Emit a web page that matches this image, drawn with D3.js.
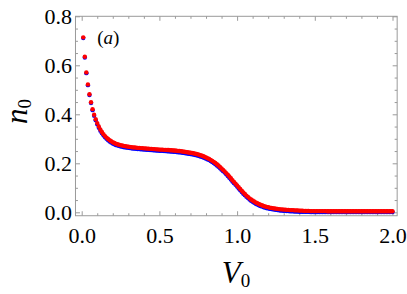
<!DOCTYPE html>
<html>
<head>
<meta charset="utf-8">
<script src="https://cdn.jsdelivr.net/npm/d3@7"></script>
<style>
  html, body { margin: 0; padding: 0; background: #fff; }
  svg { display: block; }
  svg text { font-family: 'Liberation Serif', 'DejaVu Serif', serif; }
</style>
</head>
<body>
<div id="chart"></div>
<script>
// V0 grid of the two data sets
const V0 = [
  0.01, 0.02, 0.03, 0.04, 0.05, 0.06, 0.07, 0.08, 0.09, 0.10,
  0.11, 0.12, 0.13, 0.14, 0.15, 0.16, 0.17, 0.18, 0.19, 0.20,
  0.21, 0.22, 0.23, 0.24, 0.25, 0.26, 0.27, 0.28, 0.29, 0.30,
  0.31, 0.32, 0.33, 0.34, 0.35, 0.36, 0.37, 0.38, 0.39, 0.40,
  0.41, 0.42, 0.43, 0.44, 0.45, 0.46, 0.47, 0.48, 0.49, 0.50,
  0.51, 0.52, 0.53, 0.54, 0.55, 0.56, 0.57, 0.58, 0.59, 0.60,
  0.61, 0.62, 0.63, 0.64, 0.65, 0.66, 0.67, 0.68, 0.69, 0.70,
  0.71, 0.72, 0.73, 0.74, 0.75, 0.76, 0.77, 0.78, 0.79, 0.80,
  0.81, 0.82, 0.83, 0.84, 0.85, 0.86, 0.87, 0.88, 0.89, 0.90,
  0.91, 0.92, 0.93, 0.94, 0.95, 0.96, 0.97, 0.98, 0.99, 1.00,
  1.01, 1.02, 1.03, 1.04, 1.05, 1.06, 1.07, 1.08, 1.09, 1.10,
  1.11, 1.12, 1.13, 1.14, 1.15, 1.16, 1.17, 1.18, 1.19, 1.20,
  1.21, 1.22, 1.23, 1.24, 1.25, 1.26, 1.27, 1.28, 1.29, 1.30,
  1.31, 1.32, 1.33, 1.34, 1.35, 1.36, 1.37, 1.38, 1.39, 1.40,
  1.41, 1.42, 1.43, 1.44, 1.45, 1.46, 1.47, 1.48, 1.49, 1.50,
  1.51, 1.52, 1.53, 1.54, 1.55, 1.56, 1.57, 1.58, 1.59, 1.60,
  1.61, 1.62, 1.63, 1.64, 1.65, 1.66, 1.67, 1.68, 1.69, 1.70,
  1.71, 1.72, 1.73, 1.74, 1.75, 1.76, 1.77, 1.78, 1.79, 1.80,
  1.81, 1.82, 1.83, 1.84, 1.85, 1.86, 1.87, 1.88, 1.89, 1.90,
  1.91, 1.92, 1.93, 1.94, 1.95, 1.96, 1.97, 1.98, 1.99, 2.00,
];

// red points (drawn on top)
const N0_RED = [
  .714, .635, .571, .522, .482, .449, .421, .398, .380, .364,
  .350, .338, .328, .319, .311, .305, .299, .294, .290, .286,
  .283, .280, .278, .276, .274, .273, .271, .270, .269, .268,
  .267, .266, .265, .265, .264, .263, .263, .262, .262, .261,
  .261, .260, .260, .259, .259, .258, .258, .257, .257, .256,
  .256, .256, .255, .255, .254, .254, .253, .253, .252, .252,
  .251, .250, .250, .249, .248, .247, .246, .245, .244, .243,
  .242, .241, .239, .238, .236, .234, .232, .230, .227, .224,
  .221, .218, .214, .210, .206, .201, .196, .191, .185, .179,
  .173, .167, .160, .153, .146, .139, .131, .124, .117, .110,
  .102, .095, .088, .081, .075, .068, .063, .057, .052, .048,
  .044, .040, .037, .034, .031, .029, .026, .024, .022, .021,
  .019, .018, .017, .016, .015, .014, .013, .012, .012, .011,
  .011, .010, .010, .009, .009, .009, .008, .008, .008, .007,
  .007, .007, .006, .006, .006, .006, .005, .005, .005, .005,
  .005, .005, .005, .005, .005, .005, .005, .004, .004, .004,
  .004, .004, .004, .004, .004, .004, .004, .004, .004, .004,
  .004, .004, .004, .004, .004, .004, .004, .004, .004, .004,
  .004, .004, .004, .004, .004, .004, .004, .004, .004, .004,
  .004, .004, .004, .004, .004, .004, .004, .004, .004, .004,
];

// blue points (underneath)
const N0_BLUE = [
  .711, .632, .568, .519, .479, .446, .417, .394, .376, .359,
  .345, .333, .323, .314, .306, .300, .294, .289, .285, .281,
  .278, .275, .273, .271, .269, .268, .266, .265, .264, .263,
  .262, .261, .260, .260, .259, .258, .258, .257, .257, .256,
  .256, .255, .255, .254, .254, .253, .253, .252, .252, .251,
  .251, .251, .250, .250, .249, .249, .248, .248, .247, .247,
  .246, .245, .245, .244, .243, .242, .241, .240, .239, .238,
  .237, .236, .234, .233, .231, .229, .227, .225, .222, .219,
  .216, .213, .209, .205, .201, .196, .191, .186, .180, .174,
  .168, .162, .155, .148, .141, .134, .126, .119, .112, .105,
  .097, .090, .083, .076, .070, .063, .058, .052, .047, .043,
  .039, .035, .032, .029, .026, .024, .021, .019, .017, .016,
  .014, .013, .012, .011, .010, .009, .008, .007, .007, .006,
  .006, .005, .005, .004, .004, .004, .003, .003, .003, .002,
  .002, .002, .002, .002, .002, .002, .001, .001, .001, .001,
  .001, .001, .001, .001, .001, .001, .001, .001, .001, .001,
  .001, .001, .001, .001, .001, .001, .001, .001, .001, .001,
  .001, .001, .001, .001, .001, .001, .001, .001, .001, .001,
  .001, .001, .001, .001, .001, .001, .001, .001, .001, .001,
  .001, .001, .001, .001, .001, .001, .001, .001, .001, .001,
];

// ticks
const X_MAJOR = [0, 0.5, 1, 1.5, 2];
const X_LABELS = ['0.0', '0.5', '1.0', '1.5', '2.0'];
const X_MINOR = [0.1, 0.2, 0.3, 0.4, 0.6, 0.7, 0.8, 0.9, 1.1, 1.2, 1.3, 1.4, 1.6, 1.7, 1.8, 1.9];
const Y_MAJOR = [0, 0.2, 0.4, 0.6, 0.8];
const Y_LABELS = ['0.0', '0.2', '0.4', '0.6', '0.8'];
const Y_MINOR = [0.05, 0.1, 0.15, 0.25, 0.3, 0.35, 0.45, 0.5, 0.55, 0.65, 0.7, 0.75];

const W = 407;
const H = 294;
const FRAME = '#9a9a9a';

const svg = d3
  .select('#chart')
  .append('svg')
  .attr('width', W)
  .attr('height', H);

svg.append('rect').attr('width', W).attr('height', H).attr('fill', '#fff');

// scales: data range mapped to tick positions, frame padded a bit
const x = d3.scaleLinear().domain([0, 2]).range([81.7, 392.5]);
const y = d3.scaleLinear().domain([0, 0.8]).range([212.3, 16.3]);

const fx0 = x(-0.04);
const fx1 = x(2.03);
const fy0 = y(-0.014);
const fy1 = y(0.8);

// frame
svg
  .append('rect')
  .attr('x', fx0)
  .attr('y', fy1)
  .attr('width', fx1 - fx0)
  .attr('height', fy0 - fy1)
  .attr('fill', 'none')
  .attr('stroke', FRAME)
  .attr('stroke-width', 1);

// helper: draw an inward tick axis on one side of the frame
function ticks(axisFn, scale, values, len, tx, ty, labels) {
  const a = axisFn(scale)
    .tickValues(values)
    .tickSizeInner(-len)
    .tickSizeOuter(0)
    .tickPadding(3.5)
    .tickFormat(labels ? (d, i) => labels[i] : '');
  const g = svg
    .append('g')
    .attr('transform', `translate(${tx},${ty})`)
    .call(a)
    .attr('font-family', null);
  g.select('.domain').remove();
  g.selectAll('line').attr('stroke', FRAME).attr('stroke-width', 1);
  g.selectAll('text')
    .attr('fill', '#000')
    .style('font-size', '22px');
  return g;
}

const bottom = ticks(d3.axisBottom, x, X_MAJOR, 4.5, 0, fy0, X_LABELS);
bottom.selectAll('text').attr('y', 27.5).attr('dy', 0);
ticks(d3.axisBottom, x, X_MINOR, 2.5, 0, fy0);
ticks(d3.axisTop, x, X_MAJOR, 4.5, 0, fy1);
ticks(d3.axisTop, x, X_MINOR, 2.5, 0, fy1);

const left = ticks(d3.axisLeft, y, Y_MAJOR, 4.5, fx0, 0, Y_LABELS);
left.selectAll('text').attr('dy', '0.34em');
ticks(d3.axisLeft, y, Y_MINOR, 2.5, fx0, 0);
ticks(d3.axisRight, y, Y_MAJOR, 4.5, fx1, 0);
ticks(d3.axisRight, y, Y_MINOR, 2.5, fx1, 0);

// points: blue first, red on top
const plot = svg.append('g');
[
  { vals: N0_BLUE, color: '#0000ff' },
  { vals: N0_RED, color: '#ff0000' },
].forEach((s) => {
  plot
    .append('g')
    .selectAll('circle')
    .data(V0)
    .join('circle')
    .attr('cx', (d) => x(d))
    .attr('cy', (d, i) => y(s.vals[i]))
    .attr('r', 2.2)
    .attr('fill', s.color);
});

// panel label
const lab = svg
  .append('text')
  .attr('x', x(0.1))
  .attr('y', y(0.685))
  .style('font-size', '19px');
lab.append('tspan').text('(');
lab.append('tspan').style('font-style', 'italic').text('a');
lab.append('tspan').text(')');

// axis titles
const xt = svg
  .append('text')
  .attr('x', 236)
  .attr('y', 283)
  .attr('text-anchor', 'middle')
  .style('font-size', '31px');
xt.append('tspan').style('font-style', 'italic').text('V');
xt.append('tspan').style('font-size', '19px').attr('dy', 4).text('0');

const yt = svg
  .append('text')
  .attr('transform', 'translate(27,111.5) rotate(-90)')
  .attr('text-anchor', 'middle')
  .style('font-size', '31px');
yt.append('tspan').style('font-style', 'italic').text('n');
yt.append('tspan').style('font-size', '19px').attr('dy', 4).text('0');
</script>
</body>
</html>
